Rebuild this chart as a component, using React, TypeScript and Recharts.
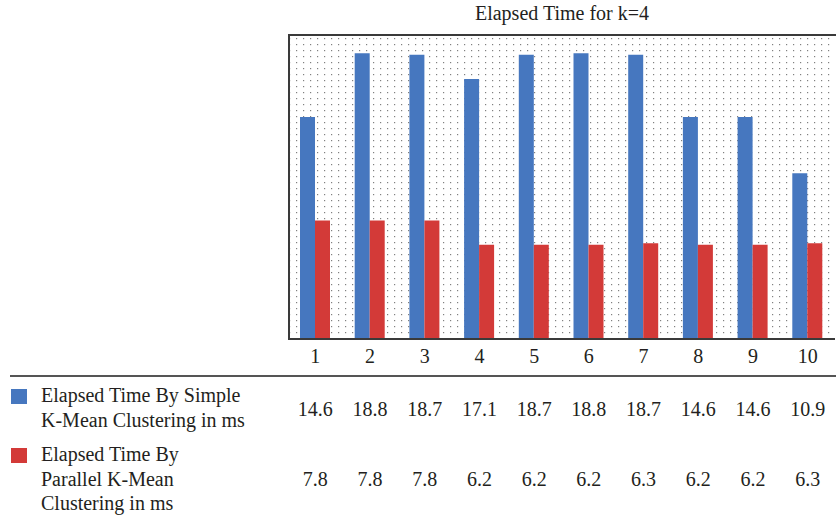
import React from 'react';
import { BarChart, Bar, XAxis, YAxis, CartesianGrid } from 'recharts';

const categories = ['1', '2', '3', '4', '5', '6', '7', '8', '9', '10'];
const simpleMs = [14.6, 18.8, 18.7, 17.1, 18.7, 18.8, 18.7, 14.6, 14.6, 10.9];
const parallelMs = [7.8, 7.8, 7.8, 6.2, 6.2, 6.2, 6.3, 6.2, 6.2, 6.3];
const seriesNames = [
  ['Elapsed Time By Simple', 'K-Mean Clustering in ms'],
  ['Elapsed Time By', 'Parallel K-Mean', 'Clustering in ms'],
];

const BLUE = '#4677bf';
const RED = '#d33a38';
const INK = '#231f20';
const FONT = '"Liberation Serif", "DejaVu Serif", serif';

const data = categories.map((c, i) => ({ run: c, simple: simpleMs[i], parallel: parallelMs[i] }));

// category label plus the two value rows of the table under the plot
const TableTick = (props: any) => {
  const { x, y, index, payload } = props;
  return (
    <g fontFamily={FONT} fontSize={20} fill={INK} textAnchor="middle">
      <text x={x} y={y + 24}>{payload.value}</text>
      <text x={x} y={y + 77}>{simpleMs[index].toFixed(1)}</text>
      <text x={x} y={y + 147}>{parallelMs[index].toFixed(1)}</text>
    </g>
  );
};

const App = () => {
  return (
    <div style={{ position: 'absolute', left: 0, top: 0, width: 836, height: 525, background: '#fff' }}>
      <div
        style={{
          position: 'absolute', left: 288, width: 548, top: 2, textAlign: 'center',
          fontFamily: FONT, fontSize: 20, color: INK,
        }}
      >
        Elapsed Time for k=4
      </div>
      <BarChart
        width={836}
        height={525}
        data={data}
        margin={{ top: 35, right: 1, left: 288, bottom: 0 }}
        barCategoryGap="23%"
        barGap={0}
      >
        <defs>
          <pattern id="dots" width="7" height="6" patternUnits="userSpaceOnUse">
            <rect x="2" y="2" width="1.2" height="1.2" fill="#808080" />
          </pattern>
        </defs>
        <CartesianGrid horizontal={false} vertical={false} fill="url(#dots)" />
        <XAxis
          dataKey="run"
          height={186}
          tickLine={false}
          tickSize={0}
          tickMargin={0}
          interval={0}
          axisLine={{ stroke: '#3a3a3a', strokeWidth: 2 }}
          tick={<TableTick />}
        />
        <YAxis domain={[0, 20]} hide />
        <Bar dataKey="simple" fill={BLUE} barSize={15} isAnimationActive={false} />
        <Bar dataKey="parallel" fill={RED} barSize={15} isAnimationActive={false} />
      </BarChart>
      <div
        style={{
          position: 'absolute', left: 288, top: 34, width: 546, height: 304,
          border: '2px solid #3a3a3a', borderBottom: 'none', pointerEvents: 'none',
        }}
      />
      <div style={{ position: 'absolute', left: 10, right: 0, top: 375, height: 2, background: '#555' }} />
      {seriesNames.map((lines, i) => (
        <div
          key={i}
          style={{
            position: 'absolute', left: 11, top: i === 0 ? 383 : 442,
            fontFamily: FONT, fontSize: 20, lineHeight: '24.5px', color: INK, display: 'flex',
          }}
        >
          <div style={{ width: 16, height: 15, marginTop: 6, marginRight: 14, background: i === 0 ? BLUE : RED }} />
          <div>
            {lines.map((l) => (
              <div key={l}>{l}</div>
            ))}
          </div>
        </div>
      ))}
    </div>
  );
};

export default App;
